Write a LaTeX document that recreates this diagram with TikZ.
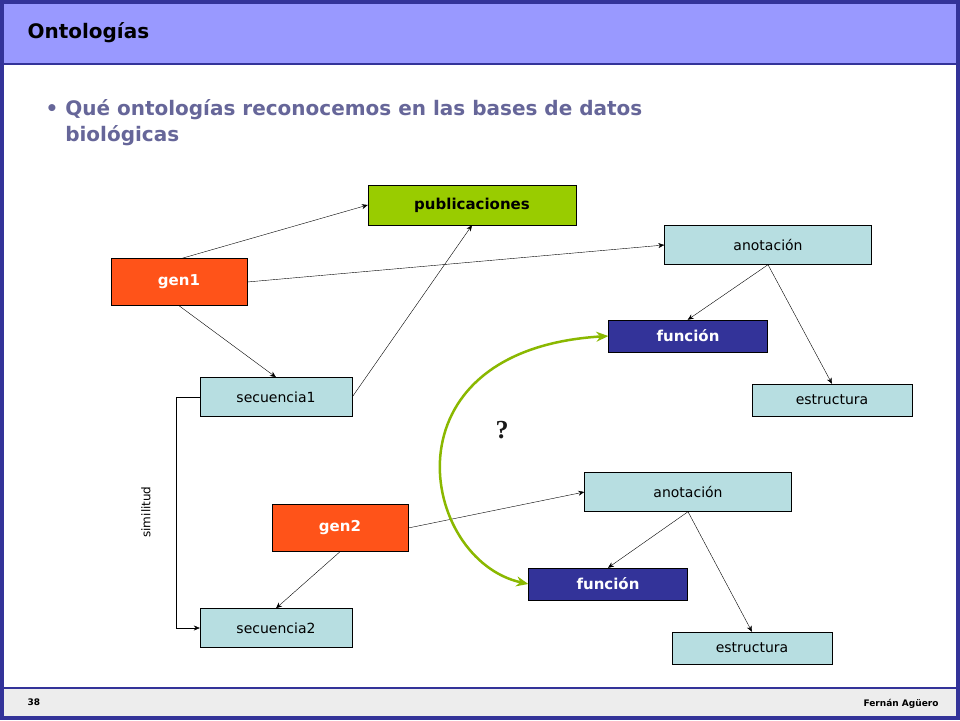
\documentclass[tikz,border=0pt]{standalone}
\usepackage{fontspec}
\setmainfont{DejaVu Sans}
\usetikzlibrary{positioning}
\usetikzlibrary{arrows.meta}
\definecolor{frame}{HTML}{333399}
\definecolor{band}{HTML}{9999FF}
\definecolor{orangebox}{HTML}{FF5319}
\definecolor{bluebox}{HTML}{B7DEE1}
\definecolor{greenbox}{HTML}{99CC00}
\definecolor{bullet}{HTML}{666699}
\tikzset{
  box/.style={rectangle, draw=black, inner sep=0pt, font=\fontsize{14}{16}\selectfont},
  gen/.style={box, fill=orangebox, text=white, font=\fontsize{15}{17}\selectfont\bfseries, minimum width=136pt, minimum height=47pt},
  seq/.style={box, fill=bluebox, minimum width=152pt, minimum height=39pt},
  ann/.style={box, fill=bluebox, minimum width=207pt, minimum height=39pt},
  func/.style={box, fill=frame, text=white, font=\fontsize{15}{17}\selectfont\bfseries, minimum width=159pt, minimum height=32pt},
  link/.style={-{Stealth[length=6pt,width=5pt]}, thin}
}
\begin{document}
\begin{tikzpicture}[x=1pt, y=-1pt]
      \useasboundingbox (0,0) rectangle (960,720);
      \fill[white] (0,0) rectangle (960,720);
      \fill[band] (0,0) rectangle (960,64);
      \fill[black!7] (0,688) rectangle (960,716);
      \draw[frame, line width=1.5pt] (0,64) -- (960,64) (0,688) -- (960,688);
      \draw[frame, line width=4pt] (2,2) rectangle (958,718);
      \node[anchor=west, font=\fontsize{20}{22}\selectfont\bfseries] (title) at (24,33) {Ontologías};
      \node[anchor=north west, align=left, text=bullet, font=\fontsize{20}{26}\selectfont\bfseries] (text) at (42,96) {• Qué ontologías reconocemos en las bases de datos\\\phantom{• }biológicas};
      \node[anchor=west, font=\fontsize{9}{10}\selectfont\bfseries] (num) at (24,702) {38};
      \node[anchor=east, font=\fontsize{9}{10}\selectfont\bfseries] (auth) at (942,704) {Fernán Agüero};
      % nodes
      \node[box, fill=greenbox, font=\fontsize{15}{17}\selectfont\bfseries, minimum width=208pt, minimum height=40pt] (pub) at (472,205) {publicaciones};
      \node[ann] (ann1) at (768,245) {anotación};
      \node[gen] (gen1) at (179,282) {gen1};
      \node[func] (fun1) at (688,336) {función};
      \node[seq] (seq1) at (276,397) {secuencia1};
      \node[seq, minimum width=160pt, minimum height=32pt] (est1) at (832,400) {estructura};
      \node[ann] (ann2) at (688,492) {anotación};
      \node[gen] (gen2) at (340,528) {gen2};
      \node[func] (fun2) at (608,584) {función};
      \node[seq] (seq2) at (276,628) {secuencia2};
      \node[seq, minimum width=160pt, minimum height=32pt] (est2) at (752,648) {estructura};
      \node[font=\fontsize{26}{28}\selectfont\bfseries, text=black!90] (q) at (502,430) {\fontspec{Liberation Serif}?};
      \node[rotate=90, font=\fontsize{12}{14}\selectfont] (sim) at (146,512) {similitud};
      % connectors
      \draw[link] ([xshift=3pt]gen1.north) -- (pub.west);
      \draw[link] (gen1.east) -- (ann1.west);
      \draw[link] (gen1.south) -- (seq1.north);
      \draw[link] (seq1.east) -- (pub.south);
      \draw[link] (ann1.south) -- ([xshift=-80pt]fun1.north east);
      \draw[link] (ann1.south) -- (est1.north);
      \draw[link] (gen2.east) -- (ann2.west);
      \draw[link] (gen2.south) -- (seq2.north);
      \draw[link] (ann2.south) -- (fun2.north);
      \draw[link] (ann2.south) -- (est2.north);
      \draw[link] (seq1.west) -- ++(-24,0) |- (seq2.west);
      \draw[greenbox!90!black, line width=2.5pt, {Stealth[length=12pt,width=10pt]}-{Stealth[length=12pt,width=10pt]}] (fun1.west) .. controls (380,350) and (420,560) .. (fun2.west);
    \end{tikzpicture}
\end{document}
